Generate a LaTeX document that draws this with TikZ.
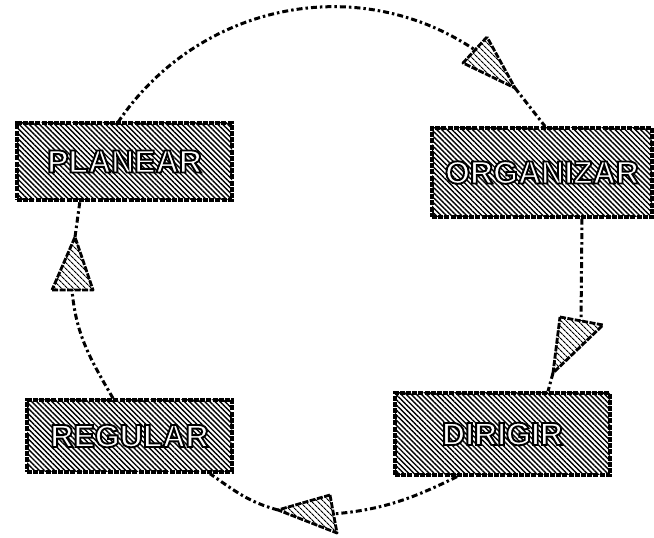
\documentclass[tikz,border=0pt]{standalone}
\usepackage{fontspec}
\setmainfont{Liberation Sans}
\usetikzlibrary{patterns.meta}
\newcommand\outl[1]{\special{pdf:literal direct 2 Tr 0 0 0 RG 1.9 w}#1\special{pdf:literal direct 0 Tr}}
\tikzset{
  boxst/.style={draw, line width=3.4pt, dash pattern=on 5pt off 1.2pt,
    pattern={Lines[angle=-45,distance=3.6pt,line width=1.4pt]},
    text=white, font=\fontsize{32}{36}\selectfont\bfseries, inner sep=0pt},
  tri/.style={draw, line width=2.8pt, dash pattern=on 6pt off 1.5pt, line join=round,
    pattern={Lines[angle=-45,distance=4pt,line width=1.1pt]}},
  link/.style={draw, line width=3pt, dash pattern=on 6pt off 3pt on 2.5pt off 3pt}
}
\begin{document}
\begin{tikzpicture}[x=1pt,y=1pt]
\useasboundingbox (0,0) rectangle (654,538);
% boxes
\node[boxst, minimum width=215pt, minimum height=77pt] (planear) at (124.5,376.5) {\outl{PLANEAR}};
\node[boxst, minimum width=220pt, minimum height=89pt] (organizar) at (542,365.5) {\outl{ORGANIZAR}};
\node[boxst, minimum width=215pt, minimum height=82pt] (dirigir) at (502.5,104) {\outl{DIRIGIR}};
\node[boxst, minimum width=205pt, minimum height=72pt] (regular) at (129.5,102) {\outl{REGULAR}};
% arrow triangles
\coordinate (t1a) at (487,501); \coordinate (t1b) at (463,475); \coordinate (t1t) at (515,450); \coordinate (t1m) at (475,488);
\coordinate (t2a) at (560,221); \coordinate (t2b) at (603,213); \coordinate (t2t) at (553,165); \coordinate (t2m) at (581,217);
\coordinate (t3a) at (330,43);  \coordinate (t3b) at (337,5);   \coordinate (t3t) at (278,28);  \coordinate (t3m) at (333,24);
\coordinate (t4a) at (52,248);  \coordinate (t4b) at (93,248);  \coordinate (t4t) at (75,301);  \coordinate (t4m) at (72,248);
% connectors
\draw[link] ([xshift=-6.5pt]planear.north) to[out=56,in=146] (t1m);
\draw[link] (t1t) -- ([xshift=3pt]organizar.north);
\draw[link] ([xshift=40pt]organizar.south) -- (t2m);
\draw[link] (t2t) -- ([xshift=45.5pt]dirigir.north);
\draw[link] ([xshift=-45.5pt]dirigir.south) to[out=206,in=5] (t3m);
\draw[link] (t3t) to[out=165,in=-35] ([xshift=80.5pt]regular.south);
\draw[link] ([xshift=-16.5pt]regular.north) to[out=120,in=-85] (t4m);
\draw[link] (t4t) -- ([xshift=-44.5pt]planear.south);
% triangles on top
\draw[tri] (t1a) -- (t1b) -- (t1t) -- cycle;
\draw[tri] (t2a) -- (t2b) -- (t2t) -- cycle;
\draw[tri] (t3a) -- (t3b) -- (t3t) -- cycle;
\draw[tri] (t4a) -- (t4b) -- (t4t) -- cycle;
\end{tikzpicture}
\end{document}
